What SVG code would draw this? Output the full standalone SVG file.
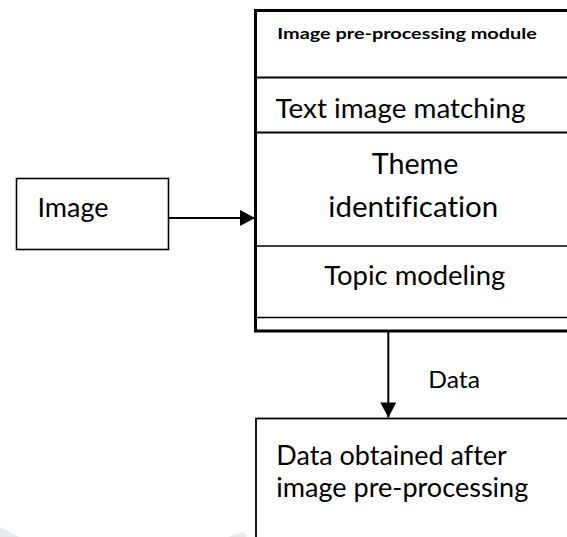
<svg xmlns="http://www.w3.org/2000/svg" width="567" height="537" viewBox="0 0 567 537">
  <defs>
    <style>
      .box { fill: #ffffff; stroke: #000000; }
      .rule { stroke: #000000; fill: none; }
      .lbl { font-family: Lato, "Open Sans", "Liberation Sans", sans-serif; fill: #000000; font-variant-ligatures: none; font-feature-settings: "liga" 0, "clig" 0; }
      .hdr { font-weight: bold; }
      .wire { stroke: #000000; stroke-width: 2; fill: none; }
    </style>
    <marker id="head" markerUnits="userSpaceOnUse" markerWidth="16" markerHeight="16" viewBox="0 0 15 16" refX="15" refY="8" orient="auto">
      <path d="M0,0 L15,8 L0,16 Z" fill="#000000"/>
    </marker>
  </defs>

  <rect width="567" height="537" fill="#ffffff"/>

  <!-- faint background marks along the lower edge -->
  <g id="backdrop" fill="#e4eaee">
    <polygon points="0,527 19,537 0,537"/>
    <polygon points="228,537 243,532 247,537"/>
  </g>

  <!-- input node -->
  <g id="image">
    <rect class="box" x="16.5" y="178.5" width="152" height="71" stroke-width="1.6"/>
    <text class="lbl" x="37.5" y="217.3" font-size="26.5" textLength="71" lengthAdjust="spacingAndGlyphs">Image</text>
  </g>

  <!-- pre-processing module with its stacked sections -->
  <g id="module">
    <rect class="box" x="255.5" y="10.5" width="330" height="320.5" stroke-width="3"/>
    <line class="rule" x1="255.5" y1="77.5" x2="567" y2="77.5" stroke-width="2"/>
    <line class="rule" x1="255.5" y1="132.5" x2="567" y2="132.5" stroke-width="2"/>
    <line class="rule" x1="255.5" y1="246" x2="567" y2="246" stroke-width="1.5"/>
    <line class="rule" x1="255.5" y1="317.5" x2="567" y2="317.5" stroke-width="1.5"/>
    <text class="lbl hdr" x="277.3" y="38.8" font-size="15.5" textLength="259.5" lengthAdjust="spacingAndGlyphs">Image pre-processing module</text>
    <text class="lbl" x="275.5" y="118.3" font-size="27.5" textLength="250" lengthAdjust="spacingAndGlyphs">Text image matching</text>
    <text class="lbl" x="371.7" y="174.3" font-size="28.5" textLength="86.6" lengthAdjust="spacingAndGlyphs">Theme</text>
    <text class="lbl" x="328.3" y="217.3" font-size="28.5" textLength="170" lengthAdjust="spacingAndGlyphs">identification</text>
    <text class="lbl" x="324.2" y="285" font-size="27.5" textLength="181" lengthAdjust="spacingAndGlyphs">Topic modeling</text>
  </g>

  <!-- output node -->
  <g id="result">
    <rect class="box" x="256" y="418.5" width="330" height="140" stroke-width="1.8"/>
    <text class="lbl" x="276.3" y="465" font-size="27" textLength="230.5" lengthAdjust="spacingAndGlyphs">Data obtained after</text>
    <text class="lbl" x="276.3" y="496.7" font-size="27" textLength="252" lengthAdjust="spacingAndGlyphs">image pre-processing</text>
  </g>

  <!-- connectors -->
  <g id="connectors">
    <line class="wire" x1="169" y1="218" x2="255" y2="218" marker-end="url(#head)"/>
    <line class="wire" x1="388.3" y1="332" x2="388.3" y2="417.5" marker-end="url(#head)"/>
    <text class="lbl" x="428.3" y="388.3" font-size="23" textLength="51.7" lengthAdjust="spacingAndGlyphs">Data</text>
  </g>
</svg>
